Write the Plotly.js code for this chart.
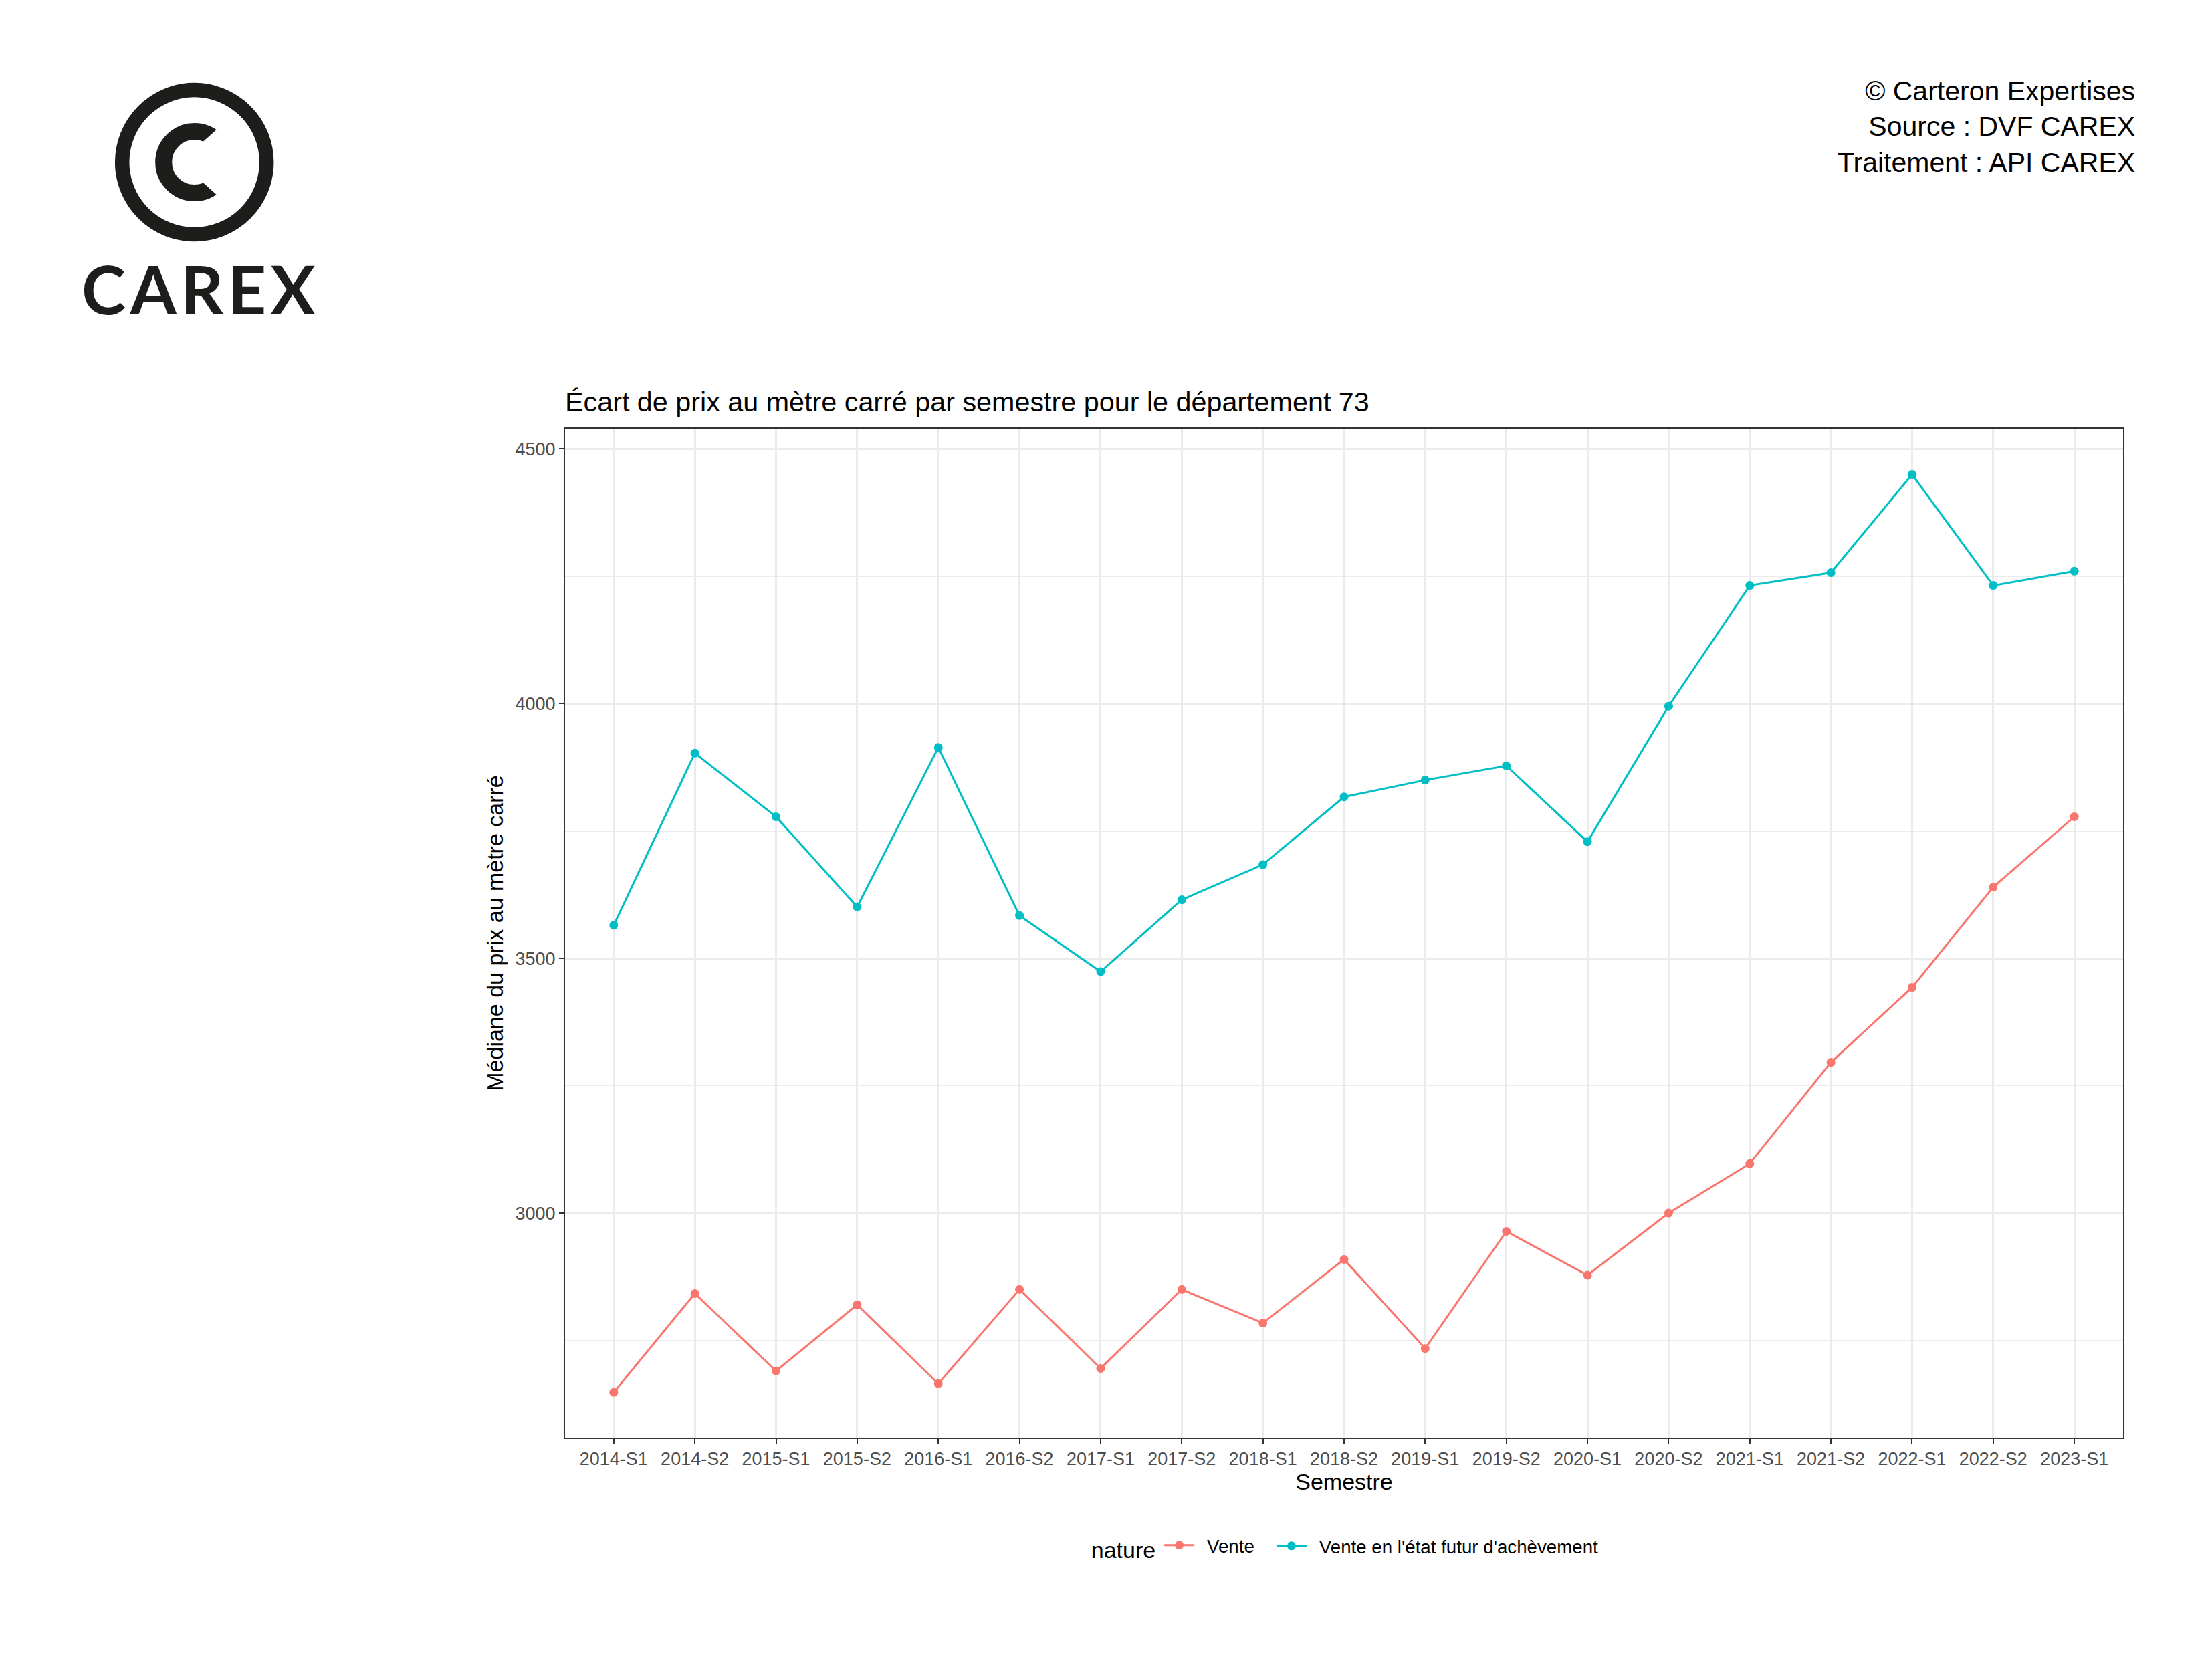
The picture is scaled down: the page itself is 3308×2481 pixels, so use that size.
<!DOCTYPE html>
<html>
<head>
<meta charset="utf-8">
<script src="https://cdn.plot.ly/plotly-3.0.1.min.js"></script>
<style>
  html, body { margin: 0; padding: 0; background: #fff; }
  #chart { width: 3308px; height: 2481px; }
</style>
</head>
<body>
<div id="chart"></div>
<script>
// semestres (x categories)
const semestres = ['2014-S1', '2014-S2', '2015-S1', '2015-S2', '2016-S1', '2016-S2', '2017-S1', '2017-S2',
  '2018-S1', '2018-S2', '2019-S1', '2019-S2', '2020-S1', '2020-S2', '2021-S1', '2021-S2',
  '2022-S1', '2022-S2', '2023-S1'];

// median price per m2
const vente = [2648, 2842, 2690, 2820, 2665, 2850, 2695, 2850, 2784, 2909, 2734, 2964, 2878, 3000,
  3097, 3296, 3443, 3640, 3778];
const vefa = [3565, 3903, 3778, 3601, 3914, 3584, 3474, 3615, 3684, 3817, 3850, 3878, 3729, 3995,
  4232, 4257, 4450, 4232, 4260];

const yTicks = [3000, 3500, 4000, 4500];

const FONT = 'Liberation Sans, Arial, Helvetica, sans-serif';
const LOGO = '#1d1d1b';
const GAP = '\u2002';  // small gap between key and label, like ggplot

var traces = [
  {
    x: semestres, y: vente, name: GAP + 'Vente', legend: 'legend',
    type: 'scatter', mode: 'lines+markers',
    line: {color: '#F8766D', width: 3},
    marker: {color: '#F8766D', size: 13}
  },
  {
    x: semestres, y: vefa, name: GAP + "Vente en l'état futur d'achèvement", legend: 'legend2',
    type: 'scatter', mode: 'lines+markers',
    line: {color: '#00BFC4', width: 3},
    marker: {color: '#00BFC4', size: 13}
  }
];

// logo anchor (paper coords, sizes in pixels)
var lx = -0.2379, ly = 1.2640;

var legendBase = {
  orientation: 'h',
  xanchor: 'left',
  yanchor: 'middle',
  font: {family: FONT, size: 27.7, color: '#000000'},
  itemwidth: 45
};

var layout = {
  width: 3308,
  height: 2481,
  margin: {l: 845, r: 133, t: 641, b: 331},
  paper_bgcolor: '#ffffff',
  plot_bgcolor: '#ffffff',
  font: {family: FONT, color: '#000000'},
  title: {
    text: 'Écart de prix au mètre carré par semestre pour le département 73',
    font: {family: FONT, size: 41.3, color: '#000000'},
    xref: 'paper', x: 0, xanchor: 'left',
    yref: 'container', y: 0.7578, yanchor: 'middle'
  },
  xaxis: {
    type: 'category',
    range: [-0.6, semestres.length - 0.4],
    showgrid: true, gridcolor: '#EBEBEB', gridwidth: 3,
    showline: true, linecolor: '#333333', linewidth: 2, mirror: true,
    ticks: 'outside', ticklen: 7, tickwidth: 2, tickcolor: '#333333',
    tickfont: {family: FONT, size: 27, color: '#4D4D4D'},
    zeroline: false,
    title: {text: 'Semestre', font: {family: FONT, size: 34, color: '#000000'}, standoff: 8}
  },
  yaxis: {
    range: [2559, 4540],
    tickvals: yTicks,
    showgrid: true, gridcolor: '#EBEBEB', gridwidth: 3,
    minor: {dtick: 250, tick0: 2750, showgrid: true, gridcolor: '#EBEBEB', gridwidth: 1.5, ticks: ''},
    showline: true, linecolor: '#333333', linewidth: 2, mirror: true,
    ticks: 'outside', ticklen: 7, tickwidth: 2, tickcolor: '#333333',
    tickfont: {family: FONT, size: 27, color: '#4D4D4D'},
    zeroline: false,
    title: {text: 'Médiane du prix au mètre carré', font: {family: FONT, size: 34, color: '#000000'}, standoff: 8}
  },
  showlegend: true,
  legend: Object.assign({}, legendBase, {
    x: 0.3368, y: -0.1085,
    title: {text: 'nature', side: 'left', font: {family: FONT, size: 34, color: '#000000'}}
  }),
  legend2: Object.assign({}, legendBase, {x: 0.4545, y: -0.1076}),
  shapes: [
    // outer ring of the logo
    {type: 'circle', xref: 'paper', yref: 'paper', xsizemode: 'pixel', ysizemode: 'pixel',
      xanchor: lx, yanchor: ly, x0: -108, x1: 108, y0: -108, y1: 108,
      line: {color: LOGO, width: 21.5}, fillcolor: 'rgba(0,0,0,0)'},
    // inner C
    {type: 'circle', xref: 'paper', yref: 'paper', xsizemode: 'pixel', ysizemode: 'pixel',
      xanchor: lx, yanchor: ly, x0: -46, x1: 46, y0: -46, y1: 46,
      line: {color: LOGO, width: 25}, fillcolor: 'rgba(0,0,0,0)'},
    // opening of the C
    {type: 'path', xref: 'paper', yref: 'paper', xsizemode: 'pixel', ysizemode: 'pixel',
      xanchor: lx, yanchor: ly,
      path: 'M 0 19 L 42.5 57 L 80 0 L 42.5 -57 L 0 -19 Z',
      line: {width: 0}, fillcolor: '#ffffff'}
  ],
  annotations: [
    {
      text: 'C\u200aA\u200aR\u200aE\u200aX',
      xref: 'paper', yref: 'paper', x: -0.2352, y: 1.1390,
      xanchor: 'center', yanchor: 'middle', showarrow: false,
      font: {family: 'Lato, sans-serif', size: 100, weight: 700, color: LOGO}
    },
    {
      text: '© Carteron Expertises<br>Source : DVF CAREX<br>Traitement : API CAREX',
      xref: 'paper', yref: 'paper', x: 1.0085, y: 1.2995,
      xanchor: 'right', yanchor: 'middle', align: 'right', showarrow: false,
      font: {family: FONT, size: 41, color: '#000000'}
    }
  ]
};

Plotly.newPlot('chart', traces, layout, {displayModeBar: false, staticPlot: true});
</script>
</body>
</html>
